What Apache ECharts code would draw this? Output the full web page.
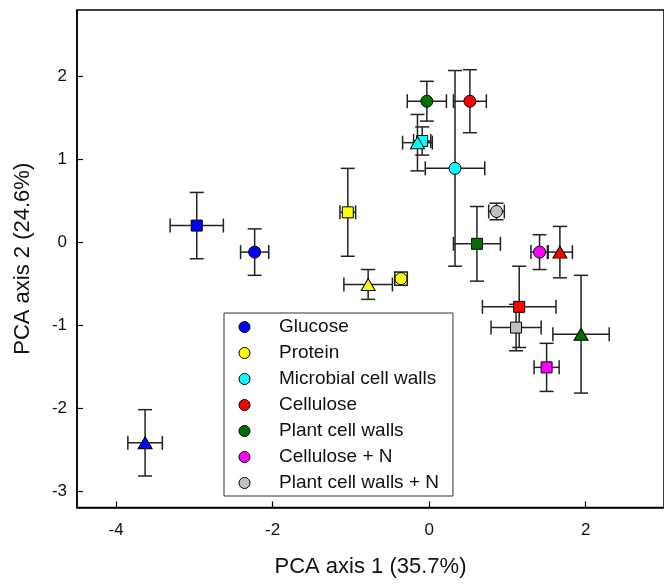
<!DOCTYPE html>
<html>
<head>
<meta charset="utf-8">
<script src="https://cdn.jsdelivr.net/npm/echarts@6/dist/echarts.min.js"></script>
<style>
  html, body { margin: 0; padding: 0; background: #fff; }
  #chart { width: 664px; height: 587px; }
</style>
</head>
<body>
<div id="chart"></div>
<script>
// treatment groups and their colours
var groups = ['Glucose', 'Protein', 'Microbial cell walls', 'Cellulose', 'Plant cell walls', 'Cellulose + N', 'Plant cell walls + N'];
var colors = ['#0000ff', '#ffff00', '#00ffff', '#ff0000', '#007000', '#ff00ff', '#c0c0c0'];

// each point: [pca1, pca2, err1, err2, marker]
var glucose = [
    [-2.97, 0.20, 0.34, 0.40, 'rect'],
    [-2.23, -0.12, 0.18, 0.28, 'circle'],
    [-3.63, -2.42, 0.22, 0.40, 'triangle']
];
var protein = [
    [-1.04, 0.36, 0.10, 0.53, 'rect'],
    [-0.78, -0.51, 0.31, 0.18, 'triangle'],
    [-0.36, -0.44, 0.08, 0.08, 'circle']
];
var microbial = [
    [0.33, 0.89, 0.38, 1.18, 'circle'],
    [-0.09, 1.22, 0.11, 0.17, 'rect'],
    [-0.15, 1.20, 0.19, 0.34, 'triangle']
];
var cellulose = [
    [0.52, 1.70, 0.21, 0.38, 'circle'],
    [1.67, -0.12, 0.16, 0.31, 'triangle'],
    [1.15, -0.78, 0.47, 0.49, 'rect']
];
var plantWalls = [
    [-0.03, 1.70, 0.25, 0.24, 'circle'],
    [0.61, -0.02, 0.30, 0.45, 'rect'],
    [1.94, -1.11, 0.36, 0.71, 'triangle']
];
var celluloseN = [
    [1.41, -0.12, 0.11, 0.21, 'circle'],
    [1.50, -1.51, 0.16, 0.29, 'rect']
];
var plantWallsN = [
    [0.86, 0.37, 0.10, 0.10, 'circle'],
    [1.11, -1.03, 0.32, 0.28, 'rect']
];
var groupData = [glucose, protein, microbial, cellulose, plantWalls, celluloseN, plantWallsN];

var xTicks = [-4, -2, 0, 2];
var yTicks = [-3, -2, -1, 0, 1, 2];

var font = "'Liberation Sans', Arial, sans-serif";
var symbolSizes = { circle: 12, rect: 11, triangle: [14, 12] };

function errorBarSeries(name, pts) {
    return {
        name: name,
        type: 'custom',
        z: 2,
        silent: true,
        encode: { x: 0, y: 1 },
        data: pts.map(function (p) { return p.slice(0, 4); }),
        renderItem: function (params, api) {
            var x = api.value(0), y = api.value(1), ex = api.value(2), ey = api.value(3);
            var l = api.coord([x - ex, y]), r = api.coord([x + ex, y]);
            var t = api.coord([x, y + ey]), b = api.coord([x, y - ey]);
            var cap = 7;
            var st = { stroke: '#222', lineWidth: 1.5 };
            var seg = function (x1, y1, x2, y2) {
                return { type: 'line', shape: { x1: x1, y1: y1, x2: x2, y2: y2 }, style: st };
            };
            return {
                type: 'group',
                children: [
                    seg(l[0], l[1], r[0], r[1]),
                    seg(l[0], l[1] - cap, l[0], l[1] + cap),
                    seg(r[0], r[1] - cap, r[0], r[1] + cap),
                    seg(t[0], t[1], b[0], b[1]),
                    seg(t[0] - cap, t[1], t[0] + cap, t[1]),
                    seg(b[0] - cap, b[1], b[0] + cap, b[1])
                ]
            };
        }
    };
}

function markerSeries(name, color, pts) {
    return {
        name: name,
        type: 'scatter',
        z: 3,
        itemStyle: { color: color, borderColor: '#000', borderWidth: 1, opacity: 1 },
        data: pts.map(function (p) {
            return { value: [p[0], p[1]], symbol: p[4], symbolSize: symbolSizes[p[4]] };
        })
    };
}

var series = [];
groups.forEach(function (g, i) {
    series.push(errorBarSeries(g, groupData[i]));
});
groups.forEach(function (g, i) {
    series.push(markerSeries(g, colors[i], groupData[i]));
});

var chart = echarts.init(document.getElementById('chart'), null, { renderer: 'canvas' });
chart.setOption({
    animation: false,
    color: colors,
    textStyle: { fontFamily: font },
    grid: {
        left: 77, top: 10, width: 590, height: 497.5,
        show: true, borderColor: '#000', borderWidth: 1.5, backgroundColor: 'transparent'
    },
    legend: {
        orient: 'vertical',
        left: 224, top: 313,
        data: groups.map(function (g) { return { name: g, icon: 'circle' }; }),
        itemWidth: 11, itemHeight: 11,
        itemGap: 4,
        padding: [3, 14, 2, 14.5],
        borderColor: '#333', borderWidth: 1,
        backgroundColor: '#fff',
        itemStyle: { borderColor: '#000', borderWidth: 1 },
        textStyle: { fontSize: 19, lineHeight: 22, color: '#111', fontFamily: font, padding: [0, 0, 0, 24] },
        selectedMode: false
    },
    xAxis: {
        type: 'value',
        min: -4.5, max: 3,
        name: 'PCA axis 1 (35.7%)',
        nameLocation: 'middle',
        nameGap: 48,
        nameTextStyle: { fontSize: 22, color: '#111', fontFamily: font },
        axisLine: { show: true, onZero: false, lineStyle: { color: '#000', width: 1.5 } },
        axisTick: { show: true, inside: true, length: 6, customValues: xTicks, lineStyle: { color: '#000', width: 1.2 } },
        axisLabel: { customValues: xTicks, fontSize: 17, color: '#111', margin: 14, fontFamily: font },
        splitLine: { show: false }
    },
    yAxis: {
        type: 'value',
        min: -3.2, max: 2.8,
        name: 'PCA axis 2 (24.6%)',
        nameLocation: 'middle',
        nameGap: 43,
        nameTextStyle: { fontSize: 22, color: '#111', fontFamily: font },
        axisLine: { show: true, onZero: false, lineStyle: { color: '#000', width: 1.5 } },
        axisTick: { show: true, inside: true, length: 6, customValues: yTicks, lineStyle: { color: '#000', width: 1.2 } },
        axisLabel: { customValues: yTicks, fontSize: 17, color: '#111', margin: 10, fontFamily: font },
        splitLine: { show: false }
    },
    series: series
});
</script>
</body>
</html>
